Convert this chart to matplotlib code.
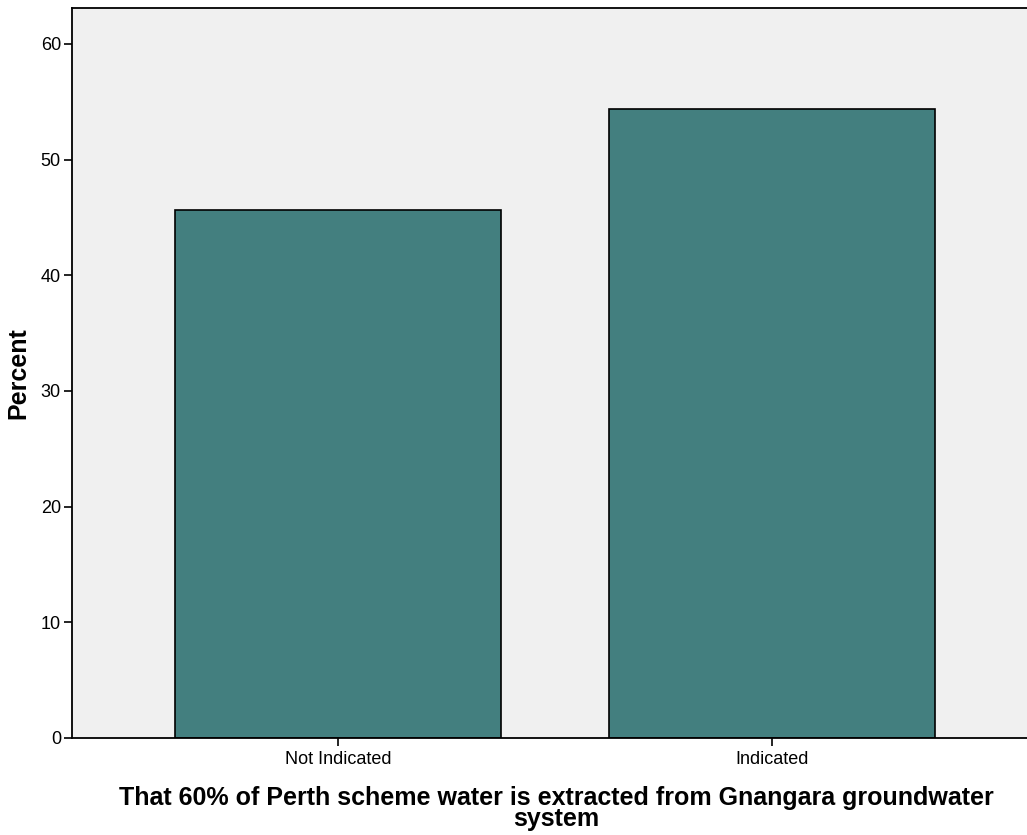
import matplotlib
matplotlib.use("Agg")
import matplotlib.pyplot as plt

categories = ["Not Indicated", "Indicated"]
percent = [45.6, 54.4]
yticks = [0, 10, 20, 30, 40, 50, 60]

plt.rcParams['font.family'] = ['Liberation Sans', 'DejaVu Sans']

fig = plt.figure(figsize=(10.27, 8.35), dpi=100)
W, H = 1027, 835
ax = fig.add_axes([72 / W, (H - 738) / H, (1030 - 72) / W, 730 / H])
ax.set_facecolor('#f0f0f0')
x = list(range(len(categories)))
ax.bar(x, percent, width=0.751, color='#437f7f', edgecolor='black', linewidth=1.2, zorder=2)
ax.set_xlim(-0.613, 1.595)
ax.set_ylim(0, 63.1)
ax.set_yticks(yticks)
ax.set_xticks(x)
ax.set_xticklabels(categories, fontsize=13)
ax.tick_params(axis='y', labelsize=13, length=6, width=1.2, direction='out', pad=2)
ax.tick_params(axis='x', length=6, width=1.2, direction='out', pad=3)
for s in ['left', 'bottom', 'top']:
    ax.spines[s].set_linewidth(1.3)
ax.spines['right'].set_visible(False)
ax.set_ylabel('Percent', fontsize=18, fontweight='bold')
ax.yaxis.set_label_coords(-(72 - 30) / (1030 - 72), 0.5, transform=ax.transAxes)
ax.set_xlabel('That 60% of Perth scheme water is extracted from Gnangara groundwater\nsystem',
              fontsize=18, fontweight='bold', linespacing=0.85)
ax.xaxis.set_label_coords((556 - 72) / (1030 - 72), -(786 - 738) / 730, transform=ax.transAxes)
ax.xaxis.label.set_verticalalignment('top')
fig.savefig('out.png', dpi=100)
